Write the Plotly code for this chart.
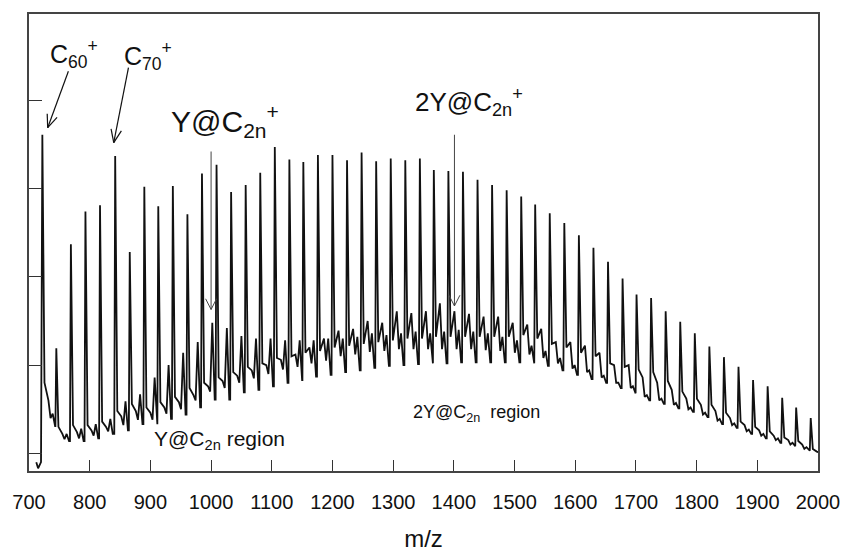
import math
import plotly.graph_objects as go

# Fullerene cluster series (C2n+ spacing of 24 amu): observed peak positions
peak_mz = [722, 745, 769, 793, 817, 842, 866, 890, 913, 937,
           961, 985, 1009, 1033, 1057, 1081, 1105, 1129, 1152, 1176,
           1200, 1224, 1248, 1272, 1296, 1320, 1344, 1367, 1391, 1415,
           1439, 1463, 1487, 1511, 1534, 1558, 1582, 1606, 1630, 1654,
           1678, 1701, 1725, 1749, 1773, 1797, 1821, 1845, 1869, 1893,
           1917, 1941, 1964, 1988]

# Peak maxima (arb. units)
peak_top = [3.61, 1.19, 2.37, 2.74, 2.81, 3.37, 2.28, 3.02, 2.80, 3.03,
            2.71, 3.17, 3.27, 2.96, 3.04, 3.18, 3.47, 3.33, 3.30, 3.38,
            3.38, 3.32, 3.41, 3.31, 3.34, 3.32, 3.34, 3.21, 3.20, 3.19,
            3.10, 3.04, 2.98, 2.91, 2.82, 2.72, 2.61, 2.47, 2.33, 2.17,
            1.98, 1.80, 1.76, 1.61, 1.49, 1.36, 1.21, 1.09, 0.98, 0.83,
            0.76, 0.63, 0.52, 0.40]

# Tail level just after each peak
shoulder = [0.80, 0.30, 0.32, 0.32, 0.36, 0.48, 0.56, 0.52, 0.58, 0.64,
            0.74, 0.80, 0.86, 0.92, 0.98, 1.02, 1.08, 1.10, 1.14, 1.16,
            1.20, 1.22, 1.24, 1.26, 1.28, 1.30, 1.30, 1.32, 1.32, 1.32,
            1.32, 1.32, 1.32, 1.34, 1.30, 1.24, 1.20, 1.14, 1.10, 1.02,
            0.98, 0.95, 0.92, 0.82, 0.70, 0.62, 0.55, 0.46, 0.36, 0.30,
            0.25, 0.18, 0.14, 0.05]

# 2Y@C2n+ features (about +10 amu after each empty cage peak)
sat_2y = [0.60, 0.22, 0.24, 0.26, 0.30, 0.42, 0.48, 0.46, 0.52, 0.58,
          0.66, 0.76, 0.82, 0.88, 0.94, 1.00, 1.06, 1.12, 1.20, 1.30,
          1.39, 1.41, 1.50, 1.48, 1.61, 1.59, 1.61, 1.70, 1.61, 1.58,
          1.55, 1.55, 1.48, 1.46, 1.41, 1.26, 1.26, 1.22, 1.14, 1.00,
          1.00, 0.86, 0.80, 0.72, 0.62, 0.55, 0.48, 0.40, 0.32, 0.26,
          0.20, 0.15, 0.10, 0.02]

# Local minimum between the two metallofullerene features
mid_dip = [0.40, 0.16, 0.17, 0.20, 0.25, 0.32, 0.38, 0.38, 0.45, 0.50,
           0.60, 0.70, 0.74, 0.80, 0.85, 0.90, 0.95, 0.98, 1.02, 1.05,
           1.10, 1.12, 1.15, 1.16, 1.18, 1.18, 1.18, 1.18, 1.18, 1.18,
           1.17, 1.16, 1.14, 1.12, 1.08, 1.02, 0.96, 0.92, 0.86, 0.80,
           0.74, 0.64, 0.60, 0.55, 0.50, 0.44, 0.37, 0.32, 0.25, 0.20,
           0.15, 0.10, 0.05, 0.01]

# Y@C2n+ features (about +17 amu after each empty cage peak)
sat_y = [0.45, 0.22, 0.28, 0.33, 0.39, 0.59, 0.67, 0.86, 1.00, 1.14,
         1.26, 1.48, 1.42, 1.33, 1.30, 1.30, 1.28, 1.28, 1.28, 1.30,
         1.30, 1.32, 1.36, 1.34, 1.36, 1.38, 1.36, 1.38, 1.40, 1.38,
         1.36, 1.32, 1.28, 1.22, 1.16, 1.08, 1.00, 0.94, 0.88, 0.80,
         0.76, 0.66, 0.62, 0.57, 0.52, 0.46, 0.39, 0.34, 0.27, 0.22,
         0.17, 0.12, 0.07, 0.02]

# Valley floor before the next peak
valley = [0.31, 0.14, 0.14, 0.17, 0.22, 0.26, 0.33, 0.33, 0.39, 0.44,
          0.52, 0.61, 0.61, 0.69, 0.72, 0.76, 0.80, 0.83, 0.87, 0.89,
          0.92, 0.94, 0.97, 0.99, 1.00, 1.01, 1.02, 1.02, 1.03, 1.03,
          1.03, 1.03, 1.03, 1.02, 0.99, 0.94, 0.89, 0.84, 0.80, 0.74,
          0.68, 0.60, 0.56, 0.51, 0.47, 0.41, 0.33, 0.29, 0.22, 0.17,
          0.12, 0.08, 0.03, -0.01]

# Onset of the trace at the low-mass edge
onset_mz = [712, 715, 719.8]
onset_y = [-0.10, -0.17, -0.10]

x_ticks = [700, 800, 900, 1000, 1100, 1200, 1300, 1400, 1500, 1600,
           1700, 1800, 1900, 2000]
y_ticks = [0, 1, 2, 3, 4]

# Arrow pointers: (head m/z, head level, tail m/z, tail level)
arrow_c60 = (730.8, 3.69, 764.9, 4.33)
arrow_c70 = (839.6, 3.52, 863.9, 4.37)
arrow_y = (1000, 1.63, 1000, 3.42)
arrow_2y = (1401, 1.67, 1401, 3.61)

X_RANGE = [700, 2000]
Y_RANGE = [-0.2, 4.978]
W, H = 852, 560
M = dict(l=27, r=24, t=12, b=82)

# Assemble the spectrum trace peak by peak
xs = list(onset_mz)
ys = list(onset_y)
for i, p in enumerate(peak_mz):
    if i > 0:
        xs.append(p - 1.5)
        ys.append(valley[i - 1])
    xs += [p, p + 3.5, p + 10, p + 13.5, p + 17, p + 21]
    ys += [peak_top[i], shoulder[i], sat_2y[i], mid_dip[i], sat_y[i], valley[i]]

FONT = "Liberation Sans, Arial, Helvetica, sans-serif"

fig = go.Figure()
fig.add_trace(go.Scatter(x=xs, y=ys, mode="lines",
                         line=dict(color="#111111", width=1.8),
                         hoverinfo="skip", showlegend=False))

ann = []
# Species labels
ann.append(dict(x=731, y=4.30, text="C<sub>60</sub><sup>+</sup>",
                font=dict(size=25), xanchor="left", yanchor="bottom"))
ann.append(dict(x=853, y=4.28, text="C<sub>70</sub><sup>+</sup>",
                font=dict(size=25), xanchor="left", yanchor="bottom"))
ann.append(dict(x=930, y=3.50, text="Y@C<sub>2n</sub><sup>+</sup>",
                font=dict(size=30), xanchor="left", yanchor="bottom"))
ann.append(dict(x=1332, y=3.76, text="2Y@C<sub>2n</sub><sup>+</sup>",
                font=dict(size=26), xanchor="left", yanchor="bottom"))
ann.append(dict(x=902, y=-0.02, text="Y@C<sub>2n</sub> region",
                font=dict(size=21), xanchor="left", yanchor="bottom"))
ann.append(dict(x=1329, y=0.30, text="2Y@C<sub>2n</sub>  region",
                font=dict(size=18), xanchor="left", yanchor="bottom"))
for a in ann:
    a.update(xref="x", yref="y", showarrow=False)
    a["font"].update(family=FONT, color="#111111")
    fig.add_annotation(**a)

# Arrows: straight shaft in data space plus an open "V" head in pixels
px_per_x = (W - M["l"] - M["r"]) / (X_RANGE[1] - X_RANGE[0])
px_per_y = (H - M["t"] - M["b"]) / (Y_RANGE[1] - Y_RANGE[0])


def add_arrow(spec, color, width, barb_len, barb_angle):
    hx, hy, tx, ty = spec
    fig.add_shape(type="line", xref="x", yref="y", x0=tx, y0=ty, x1=hx, y1=hy,
                  line=dict(color=color, width=width))
    # direction from head toward tail, in pixel space (y up)
    dx = (tx - hx) * px_per_x
    dy = (ty - hy) * px_per_y
    n = math.hypot(dx, dy)
    dx, dy = dx / n, dy / n
    for sgn in (-1, 1):
        a = math.radians(barb_angle) * sgn
        bx = dx * math.cos(a) - dy * math.sin(a)
        by = dx * math.sin(a) + dy * math.cos(a)
        fig.add_shape(type="line", xref="x", yref="y",
                      xsizemode="pixel", ysizemode="pixel",
                      xanchor=hx, yanchor=hy,
                      x0=0, y0=0, x1=bx * barb_len, y1=by * barb_len,
                      line=dict(color=color, width=width))


add_arrow(arrow_c60, "#111111", 1.2, 14, 22)
add_arrow(arrow_c70, "#111111", 1.2, 14, 22)
add_arrow(arrow_y, "#444444", 1.0, 12, 27)
add_arrow(arrow_2y, "#444444", 1.0, 12, 27)

fig.update_layout(
    width=W, height=H,
    margin=M,
    paper_bgcolor="white", plot_bgcolor="white",
    font=dict(family=FONT, color="#111111"),
    xaxis=dict(range=X_RANGE, tickvals=x_ticks,
               ticktext=[str(v) for v in x_ticks],
               ticks="inside", ticklen=11, tickwidth=1.2, tickcolor="#333333",
               showline=True, mirror=True, linecolor="#444444", linewidth=1.5,
               showgrid=False, zeroline=False,
               tickfont=dict(size=20, family=FONT, color="#111111"),
               ticklabelstandoff=12,
               title=dict(text="m/z", font=dict(size=24, family=FONT, color="#111111"),
                          standoff=18)),
    yaxis=dict(range=Y_RANGE, tickvals=y_ticks, showticklabels=False,
               ticks="inside", ticklen=13, tickwidth=1.2, tickcolor="#333333",
               showline=True, mirror=True, linecolor="#444444", linewidth=1.5,
               showgrid=False, zeroline=False),
)

fig.write_html("out.html")
